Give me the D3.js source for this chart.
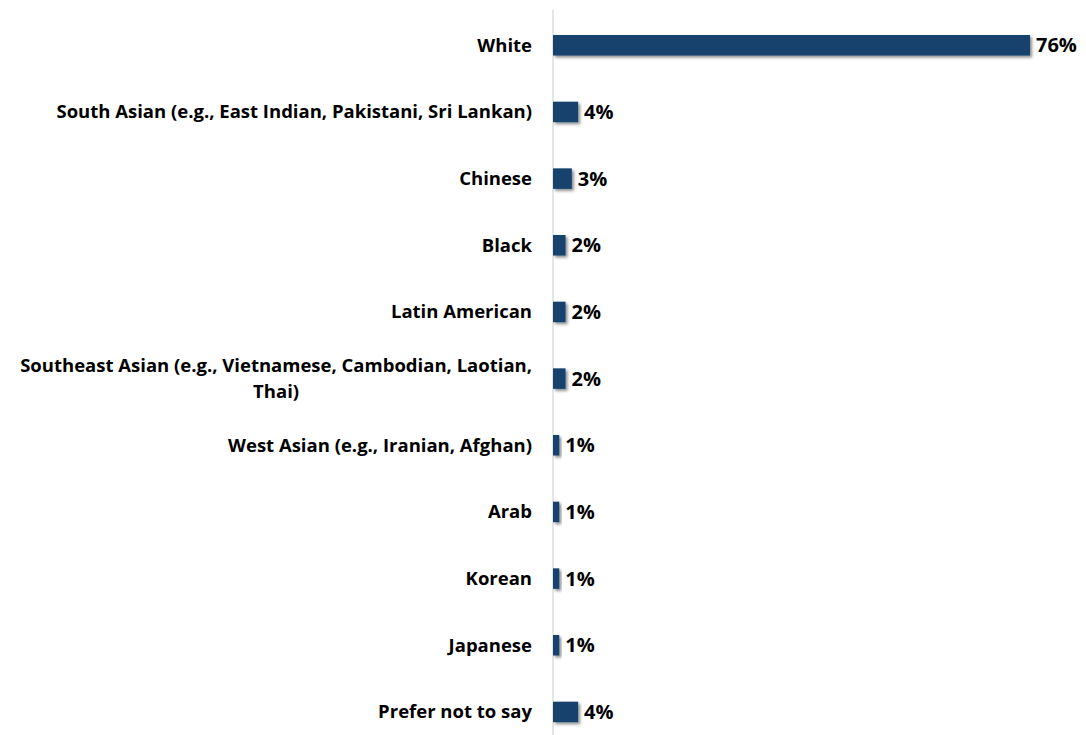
<!DOCTYPE html>
<html>
<head>
<meta charset="utf-8">
<script src="https://cdn.jsdelivr.net/npm/d3@7"></script>
<style>
  html, body { margin: 0; padding: 0; background: #ffffff; }
  svg { display: block; }
  text { font-family: "Open Sans", Lato, "Liberation Sans", sans-serif; font-weight: 700; fill: #000; }
</style>
</head>
<body>
<svg id="chart" width="1086" height="735"></svg>
<script>
// Respondent ethnicity shares (%)
const categories = [
  "White",
  "South Asian (e.g., East Indian, Pakistani, Sri Lankan)",
  "Chinese",
  "Black",
  "Latin American",
  "Southeast Asian (e.g., Vietnamese, Cambodian, Laotian, Thai)",
  "West Asian (e.g., Iranian, Afghan)",
  "Arab",
  "Korean",
  "Japanese",
  "Prefer not to say"
];
const values = [76, 4, 3, 2, 2, 2, 1, 1, 1, 1, 4];
const valueLabels = ["76%", "4%", "3%", "2%", "2%", "2%", "1%", "1%", "1%", "1%", "4%"];

const svg = d3.select("#chart");
const width = 1086, height = 735;
const axisX = 553;
const labelRight = 532;
const maxLabelWidth = 525;
const labelSize = 18.5;

const x = d3.scaleLinear().domain([0, 76]).range([axisX, 1030]);
const y = d3.scaleBand().domain(categories).range([11.7, 745]).paddingInner(0.7).paddingOuter(0.35);

// Soft shadow under the bars
const defs = svg.append("defs");
const f = defs.append("filter").attr("id", "barShadow")
  .attr("x", "-20%").attr("y", "-40%").attr("width", "160%").attr("height", "200%");
f.append("feDropShadow").attr("dx", 2).attr("dy", 2).attr("stdDeviation", 1.4)
  .attr("flood-color", "#000").attr("flood-opacity", 0.45);

// Category axis line
svg.append("line")
  .attr("x1", axisX).attr("x2", axisX)
  .attr("y1", 10).attr("y2", height)
  .attr("stroke", "#d9d9d9").attr("stroke-width", 1.3);

const rows = categories.map((c, i) => ({ c, v: values[i], lab: valueLabels[i] }));

// Bars
svg.append("g").selectAll("rect").data(rows).join("rect")
  .attr("x", x(0))
  .attr("y", d => y(d.c) + y.bandwidth() / 2 - 10)
  .attr("width", d => x(d.v) - x(0))
  .attr("height", 20.5)
  .attr("fill", "#12436d")
  .attr("filter", "url(#barShadow)");

// Value labels
svg.append("g").selectAll("text").data(rows).join("text")
  .attr("x", d => x(d.v) + 6)
  .attr("y", d => y(d.c) + y.bandwidth() / 2)
  .attr("dy", "0.36em")
  .attr("font-size", 20)
  .text(d => d.lab);

// Category labels, wrapped and centred as a block right-aligned to the axis
const labelG = svg.append("g");
rows.forEach(d => {
  const t = labelG.append("text").attr("font-size", labelSize).attr("text-anchor", "middle");
  const words = d.c.split(" ");
  const lines = [];
  let line = [];
  const probe = svg.append("text").attr("font-size", labelSize);
  words.forEach(w => {
    const test = line.concat(w).join(" ");
    probe.text(test);
    if (probe.node().getComputedTextLength() > maxLabelWidth && line.length) {
      lines.push(line.join(" "));
      line = [w];
    } else {
      line.push(w);
    }
  });
  lines.push(line.join(" "));
  const widths = lines.map(l => { probe.text(l); return probe.node().getComputedTextLength(); });
  probe.remove();
  const blockW = d3.max(widths);
  const cx = labelRight - blockW / 2;
  const lh = 26;
  const cy = y(d.c) + y.bandwidth() / 2 - (lines.length - 1) * lh / 2;
  lines.forEach((l, i) => {
    t.append("tspan").attr("x", cx).attr("y", cy + i * lh).attr("dy", "0.36em").text(l);
  });
});
</script>
</body>
</html>
